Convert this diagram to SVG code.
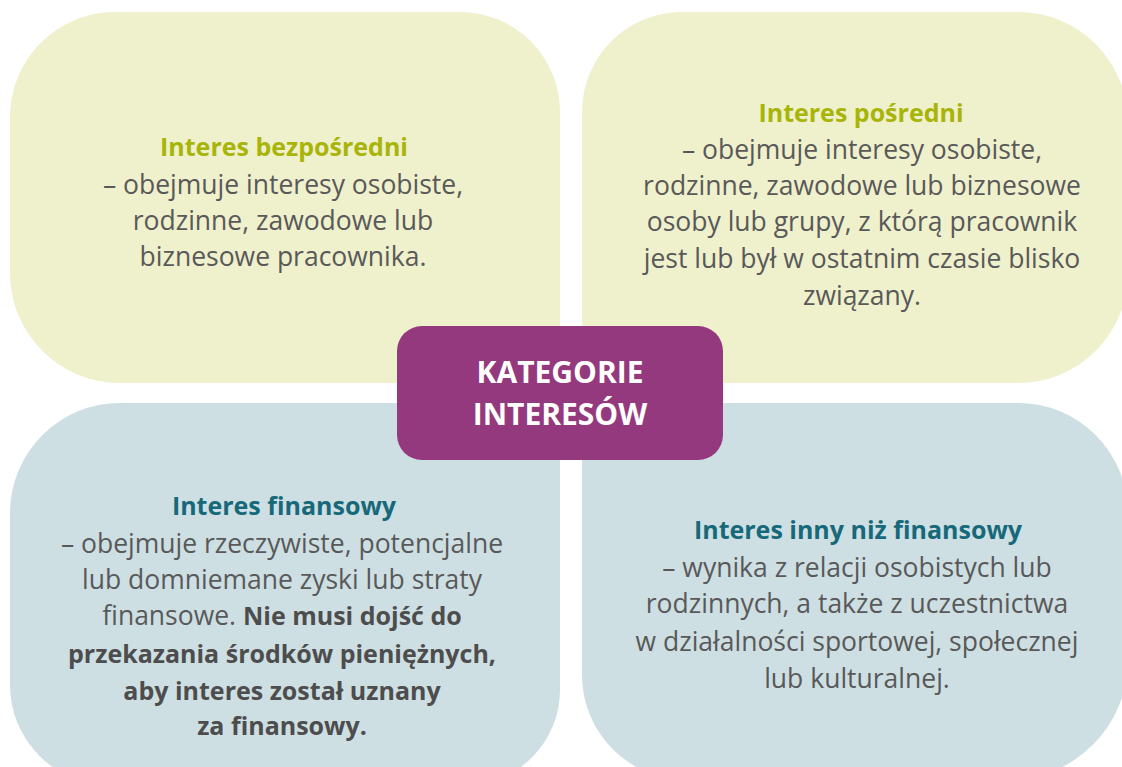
<svg xmlns="http://www.w3.org/2000/svg" width="1122" height="767" viewBox="0 0 1122 767">
<style>
.yl{fill:#EFF0CC}
.bl{fill:#CDDFE3}
.t{font-family:"Open Sans","Liberation Sans",sans-serif;font-size:26.5px;fill:#595959;text-anchor:middle}
.h1{font-weight:bold;font-size:25px;fill:#A8B508}
.h2{font-weight:bold;font-size:25px;fill:#17697A}
.b{font-weight:bold;font-size:25px;fill:#4D4D4D}
.c{font-family:"Open Sans","Liberation Sans",sans-serif;font-size:30px;font-weight:bold;fill:#FFFFFF;text-anchor:middle}
</style>
<rect width="1122" height="767" fill="#FFFFFF"/>
<g id="node-bezposredni">
<path class="yl" d="M115,12 H460 A100,100 0 0 1 560,112 V383 H120 A110,110 0 0 1 10,273 V117 A105,105 0 0 1 115,12 Z"/>
<text class="t h1" x="284" y="156">Interes bezpośredni</text>
<text class="t" x="283" y="194">– obejmuje interesy osobiste,</text>
<text class="t" x="283" y="230">rodzinne, zawodowe lub</text>
<text class="t" x="283" y="266">biznesowe pracownika.</text>
</g>
<g id="node-posredni">
<path class="yl" d="M682,12 H1018 A110,110 0 0 1 1128,122 V273 A110,110 0 0 1 1018,383 H582 V112 A100,100 0 0 1 682,12 Z"/>
<text class="t h1" x="861" y="122">Interes pośredni</text>
<text class="t" x="862" y="159">– obejmuje interesy osobiste,</text>
<text class="t" x="862" y="195">rodzinne, zawodowe lub biznesowe</text>
<text class="t" x="862" y="231">osoby lub grupy, z którą pracownik</text>
<text class="t" x="862" y="268">jest lub był w ostatnim czasie blisko</text>
<text class="t" x="862" y="305">związany.</text>
</g>
<g id="node-finansowy">
<path class="bl" d="M120,403 H560 V690 A95,95 0 0 1 465,785 H110 A100,100 0 0 1 10,685 V513 A110,110 0 0 1 120,403 Z"/>
<text class="t h2" x="284" y="515">Interes finansowy</text>
<text class="t" x="282" y="553">– obejmuje rzeczywiste, potencjalne</text>
<text class="t" x="282" y="589">lub domniemane zyski lub straty</text>
<text class="t" x="282" y="625">finansowe. <tspan class="b">Nie musi dojść do</tspan></text>
<text class="t b" x="282" y="663">przekazania środków pieniężnych,</text>
<text class="t b" x="282" y="700">aby interes został uznany</text>
<text class="t b" x="282" y="735">za finansowy.</text>
</g>
<g id="node-inny">
<path class="bl" d="M582,403 H1018 A110,110 0 0 1 1128,513 V660 A120,120 0 0 1 1008,780 H687 A105,105 0 0 1 582,675 Z"/>
<text class="t h2" x="858" y="539">Interes inny niż finansowy</text>
<text class="t" x="857" y="577">– wynika z relacji osobistych lub</text>
<text class="t" x="857" y="613">rodzinnych, a także z uczestnictwa</text>
<text class="t" x="857" y="651">w działalności sportowej, społecznej</text>
<text class="t" x="857" y="688">lub kulturalnej.</text>
</g>
<g id="node-kategorie">
<rect x="397" y="326" width="326" height="134" rx="25" ry="25" fill="#94397E"/>
<text class="c" x="560" y="383">KATEGORIE</text>
<text class="c" x="560" y="425">INTERESÓW</text>
</g>
<g id="connectors"></g>
</svg>
